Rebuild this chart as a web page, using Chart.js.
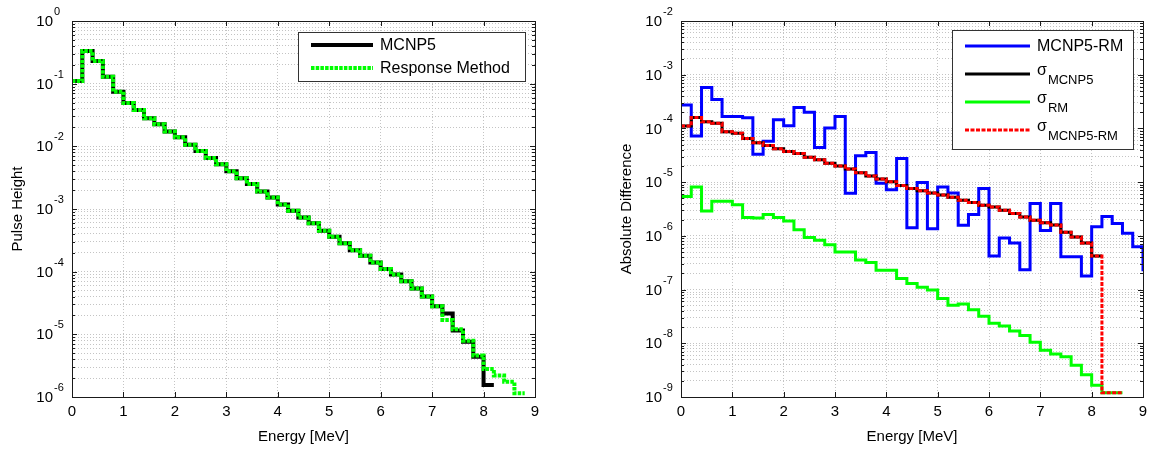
<!DOCTYPE html>
<html>
<head>
<meta charset="utf-8">
<script src="https://cdn.jsdelivr.net/npm/chart.js@4.4.0/dist/chart.umd.min.js"></script>
<style>
html, body { margin: 0; padding: 0; background: #fff; }
#wrap { position: relative; width: 1155px; height: 450px; overflow: hidden; }
#left { position: absolute; left: 0; top: 0; }
#right { position: absolute; left: 609px; top: 0; }
</style>
</head>
<body>
<div id="wrap">
  <canvas id="left" width="577" height="450"></canvas>
  <canvas id="right" width="546" height="450"></canvas>
</div>
<script>
// Bin edges [MeV], 0.2 MeV bins
const energy = [0, 0.2, 0.4, 0.6, 0.8, 1, 1.2, 1.4, 1.6, 1.8, 2, 2.2, 2.4, 2.6, 2.8, 3, 3.2, 3.4, 3.6, 3.8,
  4, 4.2, 4.4, 4.6, 4.8, 5, 5.2, 5.4, 5.6, 5.8, 6, 6.2, 6.4, 6.6, 6.8, 7, 7.2, 7.4, 7.6, 7.8,
  8, 8.2, 8.4, 8.6, 8.8, 9];

// Left panel: pulse height spectra
const mcnp5 = [0.110, 0.331, 0.229, 0.129, 0.0741, 0.0490, 0.0380, 0.0280, 0.0225, 0.0172,
  0.0139, 0.0106, 8.4e-3, 6.5e-3, 5.2e-3, 4.0e-3, 3.1e-3, 2.5e-3, 1.9e-3, 1.52e-3,
  1.18e-3, 9.4e-4, 7.3e-4, 5.9e-4, 4.5e-4, 3.6e-4, 2.85e-4, 2.2e-4, 1.8e-4, 1.4e-4,
  1.1e-4, 9.0e-5, 7.0e-5, 5.4e-5, 4.0e-5, 2.8e-5, 2.15e-5, 1.15e-5, 7.6e-6, 4.4e-6,
  1.55e-6, 1.55e-6];
const responseMethod = [0.110, 0.331, 0.229, 0.129, 0.0741, 0.0490, 0.0380, 0.0280, 0.0225, 0.0172,
  0.0139, 0.0106, 8.4e-3, 6.5e-3, 5.2e-3, 4.0e-3, 3.1e-3, 2.5e-3, 1.9e-3, 1.52e-3,
  1.18e-3, 9.4e-4, 7.3e-4, 5.9e-4, 4.5e-4, 3.6e-4, 2.85e-4, 2.2e-4, 1.8e-4, 1.4e-4,
  1.1e-4, 9.0e-5, 7.0e-5, 5.4e-5, 4.0e-5, 2.8e-5, 1.7e-5, 1.2e-5, 7.9e-6, 4.6e-6,
  2.8e-6, 2.2e-6, 1.75e-6, 1.15e-6, 1.15e-6];

// Right panel: absolute differences and uncertainties
const diffMcnpRm = [2.72e-4, 7.2e-5, 5.75e-4, 3.47e-4, 1.66e-4, 1.66e-4, 1.58e-4, 3.3e-5, 5.75e-5, 1.45e-4,
  1.12e-4, 2.45e-4, 2.0e-4, 4.4e-5, 1.02e-4, 1.66e-4, 6.2e-6, 3.1e-5, 3.55e-5, 9.5e-6,
  7.2e-6, 2.75e-5, 1.41e-6, 9.8e-6, 1.35e-6, 8.1e-6, 6.3e-6, 1.58e-6, 2.5e-6, 7.6e-6,
  4.2e-7, 9.1e-7, 7.4e-7, 2.35e-7, 4.0e-6, 1.26e-6, 4.0e-6, 4.1e-7, 4.1e-7, 1.78e-7,
  1.48e-6, 2.3e-6, 1.7e-6, 1.12e-6, 6.3e-7, 2.2e-7];
const sigmaMcnp5 = [1.11e-4, 1.6e-4, 1.33e-4, 1.25e-4, 8.7e-5, 8.1e-5, 6.5e-5, 5.4e-5, 4.8e-5, 4.2e-5,
  3.7e-5, 3.4e-5, 2.9e-5, 2.6e-5, 2.25e-5, 2.0e-5, 1.75e-5, 1.5e-5, 1.3e-5, 1.15e-5,
  1.02e-5, 8.7e-6, 7.6e-6, 6.9e-6, 6.3e-6, 5.75e-6, 5.25e-6, 4.6e-6, 4.2e-6, 3.7e-6,
  3.45e-6, 3.0e-6, 2.6e-6, 2.25e-6, 1.95e-6, 1.75e-6, 1.6e-6, 1.17e-6, 9.5e-7, 7.4e-7,
  4.2e-7, 4.2e-7];
const sigmaRm = [5.4e-6, 8.1e-6, 2.9e-6, 4.4e-6, 4.4e-6, 3.8e-6, 2.2e-6, 2.15e-6, 2.5e-6, 2.2e-6,
  1.9e-6, 1.3e-6, 9.3e-7, 8.3e-7, 6.8e-7, 5.0e-7, 5.0e-7, 3.55e-7, 3.2e-7, 2.3e-7,
  2.3e-7, 1.6e-7, 1.3e-7, 1.1e-7, 9.8e-8, 6.8e-8, 5.1e-8, 5.4e-8, 4.2e-8, 3.2e-8,
  2.35e-8, 2.1e-8, 1.7e-8, 1.4e-8, 1.05e-8, 7.4e-9, 6.3e-9, 5.6e-9, 3.9e-9, 2.6e-9,
  1.66e-9, 1.2e-9, 1.2e-9, 1.2e-9];
const sigmaMcnpRm = [1.11e-4, 1.6e-4, 1.33e-4, 1.25e-4, 8.7e-5, 8.1e-5, 6.5e-5, 5.4e-5, 4.8e-5, 4.2e-5,
  3.7e-5, 3.4e-5, 2.9e-5, 2.6e-5, 2.25e-5, 2.0e-5, 1.75e-5, 1.5e-5, 1.3e-5, 1.15e-5,
  1.02e-5, 8.7e-6, 7.6e-6, 6.9e-6, 6.3e-6, 5.75e-6, 5.25e-6, 4.6e-6, 4.2e-6, 3.7e-6,
  3.45e-6, 3.0e-6, 2.6e-6, 2.25e-6, 1.95e-6, 1.75e-6, 1.6e-6, 1.17e-6, 9.5e-7, 7.4e-7,
  4.2e-7, 1.2e-9, 1.2e-9, 1.2e-9];

const xTicks = [0, 1, 2, 3, 4, 5, 6, 7, 8, 9];

Chart.defaults.font.family = '"Liberation Sans", Arial, Helvetica, sans-serif';
Chart.defaults.color = '#000';

function pts(vals) {
  return vals.map((v, i) => ({ x: energy[i], y: v }));
}

// log ticks 1..9 per decade, decades marked major
function logTicks(lo, hi) {
  const t = [];
  for (let e = lo; e <= hi; e++) {
    for (let m = 1; m <= 9; m++) {
      if (e === hi && m > 1) break;
      t.push({ value: Number(m + 'e' + e), major: m === 1, exp: e });
    }
  }
  return t;
}

// MATLAB-like box, inward ticks, 10^n labels and legend
const matlabAxes = {
  id: 'matlabAxes',
  afterDraw(chart, args, opts) {
    const { ctx, chartArea: a } = chart;
    const x = chart.scales.x, y = chart.scales.y;
    ctx.save();
    ctx.strokeStyle = '#1a1a1a';
    ctx.lineWidth = 1;
    ctx.beginPath();
    x.ticks.forEach(t => {
      const px = Math.round(x.getPixelForValue(t.value)) + 0.5;
      ctx.moveTo(px, a.bottom); ctx.lineTo(px, a.bottom - 5);
      ctx.moveTo(px, a.top); ctx.lineTo(px, a.top + 5);
    });
    y.ticks.forEach(t => {
      const py = Math.round(y.getPixelForValue(t.value)) + 0.5;
      const len = t.major ? 5 : 3;
      ctx.moveTo(a.left, py); ctx.lineTo(a.left + len, py);
      ctx.moveTo(a.right, py); ctx.lineTo(a.right - len, py);
    });
    ctx.stroke();
    ctx.strokeRect(Math.round(a.left) + 0.5, Math.round(a.top) + 0.5,
      Math.round(a.right - a.left), Math.round(a.bottom - a.top));

    // y tick labels 10^n
    ctx.fillStyle = '#000';
    y.ticks.filter(t => t.major).forEach(t => {
      const py = y.getPixelForValue(t.value);
      ctx.font = '15px "Liberation Sans", Arial, sans-serif';
      ctx.textAlign = 'right';
      ctx.textBaseline = 'middle';
      ctx.fillText('10', a.left - 19, py + 1);
      ctx.font = '11px "Liberation Sans", Arial, sans-serif';
      ctx.textAlign = 'left';
      ctx.fillText(String(t.exp), a.left - 18, py - 9);
    });

    // legend
    const lg = opts.legend;
    if (lg) {
      ctx.fillStyle = '#fff';
      ctx.fillRect(lg.box[0], lg.box[1], lg.box[2], lg.box[3]);
      ctx.strokeStyle = '#333';
      ctx.lineWidth = 1;
      ctx.strokeRect(lg.box[0] + 0.5, lg.box[1] + 0.5, lg.box[2], lg.box[3]);
      lg.rows.forEach(r => {
        const ds = chart.data.datasets.find(d => d.label === r.label);
        ctx.save();
        ctx.strokeStyle = ds.borderColor;
        ctx.lineWidth = ds.borderWidth;
        ctx.setLineDash(ds.borderDash || []);
        ctx.beginPath();
        ctx.moveTo(lg.lineX[0], r.y);
        ctx.lineTo(lg.lineX[1], r.y);
        ctx.stroke();
        ctx.restore();
        ctx.fillStyle = '#000';
        ctx.textAlign = 'left';
        ctx.textBaseline = 'middle';
        ctx.font = lg.fontSize + 'px "Liberation Sans", Arial, sans-serif';
        if (r.sub) {
          ctx.fillText(r.main, lg.textX, r.y - 3);
          const w = ctx.measureText(r.main).width;
          ctx.font = '13px "Liberation Sans", Arial, sans-serif';
          ctx.fillText(r.sub, lg.textX + w + 1, r.y + 6);
        } else {
          ctx.fillText(r.main, lg.textX, r.y + 1);
        }
      });
    }
    ctx.restore();
  }
};

function makeChart(id, datasets, yLo, yHi, yTitle, legend, padRight) {
  return new Chart(document.getElementById(id), {
    type: 'line',
    data: { datasets },
    options: {
      responsive: false,
      animation: false,
      devicePixelRatio: 1,
      events: [],
      layout: { padding: { top: 21, right: padRight, bottom: 0, left: 0 } },
      elements: {
        point: { radius: 0 },
        line: { tension: 0, borderJoinStyle: 'miter', borderCapStyle: 'butt', fill: false }
      },
      scales: {
        x: {
          type: 'linear',
          min: 0,
          max: 9,
          afterBuildTicks: s => { s.ticks = xTicks.map(v => ({ value: v })); },
          afterFit: s => { s.height = 53; },
          ticks: { autoSkip: false, maxRotation: 0, padding: 6, font: { size: 15 }, color: '#000' },
          grid: { color: '#c4c4c4', lineWidth: 1, drawTicks: false },
          border: { display: false, dash: [1, 2] },
          title: { display: true, text: 'Energy [MeV]', font: { size: 15 }, color: '#000', padding: { top: 0, bottom: 4 } }
        },
        y: {
          type: 'logarithmic',
          min: Number('1e' + yLo),
          max: Number('1e' + yHi),
          afterBuildTicks: s => { s.ticks = logTicks(yLo, yHi); },
          afterFit: s => { s.width = 72; },
          ticks: { display: false },
          grid: { color: '#c4c4c4', lineWidth: 1, drawTicks: false },
          border: { display: false, dash: [1, 2] },
          title: { display: true, text: yTitle, font: { size: 15 }, color: '#000', padding: { top: 9, bottom: 0 } }
        }
      },
      plugins: {
        legend: { display: false },
        tooltip: { enabled: false },
        matlabAxes: { legend }
      }
    },
    plugins: [matlabAxes]
  });
}

makeChart('left', [
  { label: 'Response Method', data: pts(responseMethod), stepped: true, borderColor: '#00ff00', borderWidth: 4, borderDash: [3.5, 1.2], order: 0 },
  { label: 'MCNP5', data: pts(mcnp5), stepped: true, borderColor: '#000000', borderWidth: 4, order: 1 }
], -6, 0, 'Pulse Height', {
  box: [298, 32, 227, 49], lineX: [311, 373], textX: 380, fontSize: 16,
  rows: [
    { label: 'MCNP5', main: 'MCNP5', y: 45 },
    { label: 'Response Method', main: 'Response Method', y: 68 }
  ]
}, 42);

makeChart('right', [
  { label: 'sigma MCNP5-RM', data: pts(sigmaMcnpRm), stepped: true, borderColor: '#ff0000', borderWidth: 3, borderDash: [4, 1.5], order: 0 },
  { label: 'sigma RM', data: pts(sigmaRm), stepped: true, borderColor: '#00ff00', borderWidth: 3, order: 1 },
  { label: 'sigma MCNP5', data: pts(sigmaMcnp5), stepped: true, borderColor: '#000000', borderWidth: 3, order: 2 },
  { label: 'MCNP5-RM', data: pts(diffMcnpRm), stepped: true, borderColor: '#0000ff', borderWidth: 3, order: 3 }
], -9, -2, 'Absolute Difference', {
  box: [343, 30, 181, 119], lineX: [356, 421], textX: 428, fontSize: 16,
  rows: [
    { label: 'MCNP5-RM', main: 'MCNP5-RM', y: 46 },
    { label: 'sigma MCNP5', main: 'σ', sub: 'MCNP5', y: 74 },
    { label: 'sigma RM', main: 'σ', sub: 'RM', y: 102 },
    { label: 'sigma MCNP5-RM', main: 'σ', sub: 'MCNP5-RM', y: 130 }
  ]
}, 12);
</script>
</body>
</html>
